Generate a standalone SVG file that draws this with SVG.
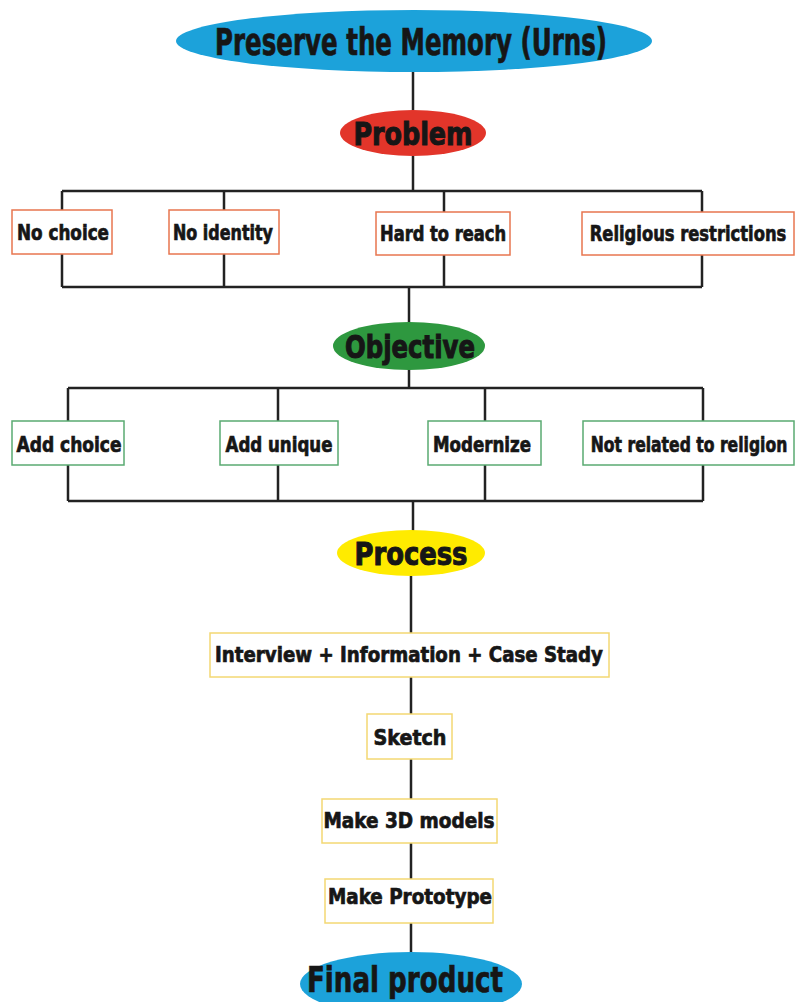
<svg xmlns="http://www.w3.org/2000/svg" width="796" height="1002" viewBox="0 0 796 1002">
<style>
.t{font-family:"DejaVu Sans Condensed","Liberation Sans Narrow","Liberation Sans",sans-serif;font-weight:bold;fill:#161616;stroke:#161616;stroke-width:0.7;text-anchor:middle}
.bt{font-size:22px}
.et{font-size:32px;stroke-width:1}
.ln{stroke:#222;stroke-width:2.5;fill:none}
.bp{fill:#fff;stroke:#e8764f;stroke-width:1.5}
.bo{fill:#fff;stroke:#5aaa72;stroke-width:1.5}
.bs{fill:#fff;stroke:#f3d873;stroke-width:1.5}
</style>
<rect width="796" height="1002" fill="#fff"/>
<g id="connectors">
<path class="ln" d="M413 72 V110"/>
<path class="ln" d="M413 156 V191"/>
<path class="ln" d="M62 191 H702 M62 191 V210 M224 191 V210 M444 191 V212 M702 191 V212"/>
<path class="ln" d="M62 254 V287 M224 254 V287 M444 255 V287 M702 255 V287 M62 287 H702"/>
<path class="ln" d="M409 287 V323"/>
<path class="ln" d="M409 369 V388"/>
<path class="ln" d="M68 388 H703 M68 388 V421 M278 388 V421 M485 388 V421 M703 388 V421"/>
<path class="ln" d="M68 465 V501 M278 465 V501 M485 465 V501 M703 465 V501 M68 501 H703"/>
<path class="ln" d="M413 501 V531"/>
<path class="ln" d="M411 576 V633"/>
<path class="ln" d="M411 677 V714"/>
<path class="ln" d="M411 759 V799"/>
<path class="ln" d="M411 843 V879"/>
<path class="ln" d="M411 923 V953"/>
</g>
<g id="title">
<ellipse cx="414" cy="41" rx="238" ry="31" fill="#1ca2da"/>
<text class="t" x="411" y="55" font-size="37" stroke-width="1.1" textLength="392" lengthAdjust="spacingAndGlyphs">Preserve the Memory (Urns)</text>
</g>
<g id="problem">
<ellipse cx="413" cy="133" rx="73" ry="23" fill="#e2352a"/>
<text class="t et" x="413" y="145" textLength="119" lengthAdjust="spacingAndGlyphs">Problem</text>
</g>
<g id="no-choice">
<rect class="bp" x="12" y="210" width="100" height="44"/>
<text class="t bt" x="63" y="240" textLength="92" lengthAdjust="spacingAndGlyphs">No choice</text>
</g>
<g id="no-identity">
<rect class="bp" x="169" y="210" width="110" height="44"/>
<text class="t bt" x="223" y="240" textLength="100" lengthAdjust="spacingAndGlyphs">No identity</text>
</g>
<g id="hard-to-reach">
<rect class="bp" x="376" y="212" width="134" height="43"/>
<text class="t bt" x="443" y="241" textLength="126" lengthAdjust="spacingAndGlyphs">Hard to reach</text>
</g>
<g id="religious-restrictions">
<rect class="bp" x="582" y="212" width="212" height="43"/>
<text class="t bt" transform="translate(688 241) scale(0.75 1)" x="0" y="0" textLength="262" lengthAdjust="spacingAndGlyphs">Religious restrictions</text>
</g>
<g id="objective">
<ellipse cx="409" cy="346" rx="76" ry="24" fill="#2e983f"/>
<text class="t et" x="410" y="358" textLength="130" lengthAdjust="spacingAndGlyphs">Objective</text>
</g>
<g id="add-choice">
<rect class="bo" x="12" y="421" width="112" height="44"/>
<text class="t bt" x="69" y="452" textLength="105" lengthAdjust="spacingAndGlyphs">Add choice</text>
</g>
<g id="add-unique">
<rect class="bo" x="220" y="421" width="118" height="44"/>
<text class="t bt" x="279" y="452" textLength="107" lengthAdjust="spacingAndGlyphs">Add unique</text>
</g>
<g id="modernize">
<rect class="bo" x="428" y="421" width="113" height="44"/>
<text class="t bt" x="482" y="452" textLength="98" lengthAdjust="spacingAndGlyphs">Modernize</text>
</g>
<g id="not-related">
<rect class="bo" x="583" y="421" width="211" height="44"/>
<text class="t bt" transform="translate(689 452) scale(0.75 1)" x="0" y="0" textLength="262" lengthAdjust="spacingAndGlyphs">Not related to religion</text>
</g>
<g id="process">
<ellipse cx="411" cy="553" rx="74" ry="23" fill="#ffeb00"/>
<text class="t et" x="411" y="565" textLength="113" lengthAdjust="spacingAndGlyphs">Process</text>
</g>
<g id="interview">
<rect class="bs" x="210" y="633" width="399" height="44"/>
<text class="t bt" x="409" y="662" textLength="388" lengthAdjust="spacingAndGlyphs">Interview + Information + Case Stady</text>
</g>
<g id="sketch">
<rect class="bs" x="367" y="714" width="85" height="45"/>
<text class="t bt" x="410" y="745" textLength="73" lengthAdjust="spacingAndGlyphs">Sketch</text>
</g>
<g id="make-3d">
<rect class="bs" x="322" y="799" width="175" height="44"/>
<text class="t bt" x="409" y="828" textLength="171" lengthAdjust="spacingAndGlyphs">Make 3D models</text>
</g>
<g id="make-prototype">
<rect class="bs" x="325" y="879" width="168" height="44"/>
<text class="t bt" x="410" y="904" textLength="164" lengthAdjust="spacingAndGlyphs">Make Prototype</text>
</g>
<g id="final-product">
<ellipse cx="411" cy="984" rx="111" ry="32" fill="#1ca2da"/>
<text class="t" x="405" y="992" font-size="36" stroke-width="1.1" textLength="196" lengthAdjust="spacingAndGlyphs">Final product</text>
</g>
</svg>
